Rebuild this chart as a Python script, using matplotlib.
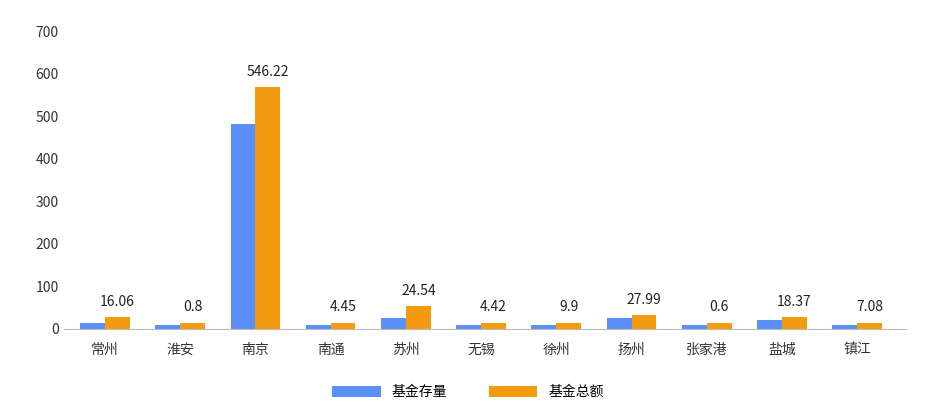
import matplotlib
matplotlib.use('Agg')
import matplotlib.pyplot as plt
import numpy as np

plt.rcParams['font.family'] = ['Noto Sans CJK SC', 'DejaVu Sans']

cities = ['常州', '淮安', '南京', '南通', '苏州', '无锡', '徐州', '扬州', '张家港', '盐城', '镇江']
stock = [14, 8, 481, 8, 24, 8, 8, 24, 8, 20, 8]
total = [27, 14, 568, 14, 53, 14, 14, 31, 14, 27, 14]
labels = ['16.06', '0.8', '546.22', '4.45', '24.54', '4.42', '9.9', '27.99', '0.6', '18.37', '7.08']

fig = plt.figure(figsize=(9.36, 4.16), dpi=100)
ax = fig.add_axes([0.068, 0.21, 0.90, 0.715])

x = np.arange(len(cities))
w = 0.33
ax.bar(x - w/2, stock, w, color='#5b8ff9', label='基金存量')
b = ax.bar(x + w/2, total, w, color='#f39c12', label='基金总额')
for rect, t in zip(b, labels):
    ax.annotate(t, (rect.get_x() + rect.get_width()/2, rect.get_height()),
                xytext=(0, 6), textcoords='offset points', ha='center', va='bottom',
                fontsize=10, color='#222222')

ax.set_ylim(0, 700)
ax.set_yticks(range(0, 701, 100))
ax.set_xlim(-0.55, len(cities) - 0.35)
ax.set_xticks(x)
ax.set_xticklabels(cities, fontsize=10)
ax.tick_params(axis='y', length=0, labelsize=10, colors='#333333')
ax.tick_params(axis='x', length=0, pad=10, colors='#333333')
for s in ['top', 'right', 'left']:
    ax.spines[s].set_visible(False)
ax.spines['bottom'].set_color('#bbbbbb')

fig.legend(loc='lower center', bbox_to_anchor=(0.5, 0.01), ncol=2, frameon=False,
           fontsize=10, handlelength=3.5, handleheight=0.8, columnspacing=3)
fig.savefig('out.png')
